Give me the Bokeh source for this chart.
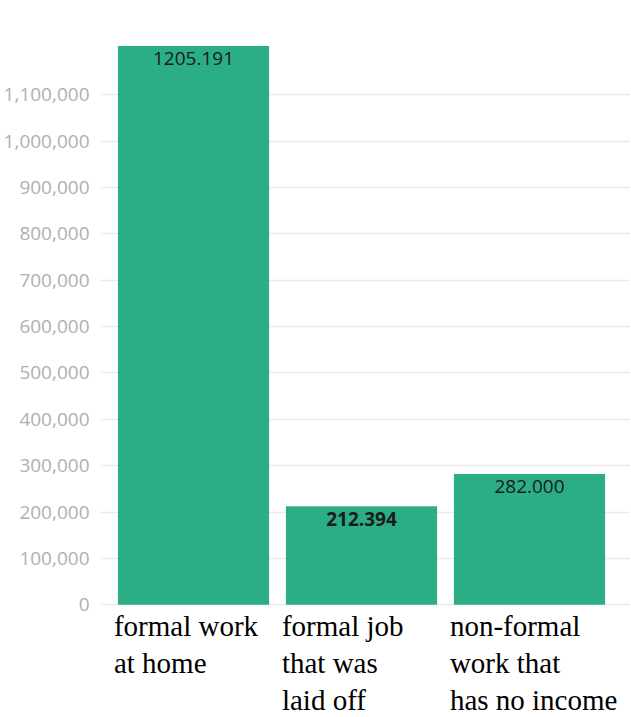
from bokeh.plotting import figure
from bokeh.models import ColumnDataSource, FixedTicker, NumeralTickFormatter, Range1d
from bokeh.core.properties import value
from bokeh.embed import file_html
from bokeh.resources import INLINE

# ---- data ----
categories = ["formal work\nat home", "formal job\nthat was\nlaid off", "non-formal\nwork that\nhas no income"]
counts = [1205191, 212394, 282000]
y_ticks = [0, 100000, 200000, 300000, 400000, 500000, 600000, 700000, 800000, 900000, 1000000, 1100000]

# value labels as shown in the chart ("1205.191")
value_labels = [f"{v // 1000}.{v % 1000:03d}" for v in counts]
label_weights = ["normal", "bold", "normal"]

xs = list(range(len(categories)))
src = ColumnDataSource(dict(x=xs, top=counts, lab=value_labels, wt=label_weights,
                            cat=categories, zero=[0] * len(xs),
                            left=[x - 0.45 for x in xs]))

p = figure(width=630, height=716, output_backend="svg", toolbar_location=None,
           x_range=Range1d(-0.5536, 2.6012), y_range=Range1d(-240937, 1303475),
           min_border_left=100, min_border_right=0, min_border_top=0, min_border_bottom=0)

p.vbar(x="x", top="top", bottom=0, width=0.9, source=src,
       fill_color="#2bad85", line_color=None)

p.text(x="x", y="top", text="lab", source=src, text_align="center", text_baseline="top",
       y_offset=6, text_font=value("Open Sans"), text_font_size="19px",
       text_font_style="wt", text_color="#1a1a1a")

p.text(x="left", y="zero", text="cat", source=src, text_align="left", text_baseline="top",
       x_offset=-4, y_offset=5, text_font=value("Liberation Serif"), text_font_size="29px",
       text_line_height=1.16, text_color="#000000")

p.xaxis.visible = False
p.xgrid.grid_line_color = None
p.ygrid.grid_line_color = "#ebebeb"
p.ygrid.grid_line_width = 1.5
p.ygrid.ticker = FixedTicker(ticks=y_ticks)

ya = p.yaxis[0]
ya.ticker = FixedTicker(ticks=y_ticks)
ya.formatter = NumeralTickFormatter(format="0,0")
ya.axis_line_color = None
ya.major_tick_line_color = None
ya.minor_tick_line_color = None
ya.major_label_standoff = 5
ya.major_label_text_color = "#b0b0b0"
ya.major_label_text_font = "Open Sans"
ya.major_label_text_font_size = "19px"

p.outline_line_color = None
p.background_fill_color = "white"
p.border_fill_color = "white"

open("out.html", "w").write(file_html(p, INLINE))
